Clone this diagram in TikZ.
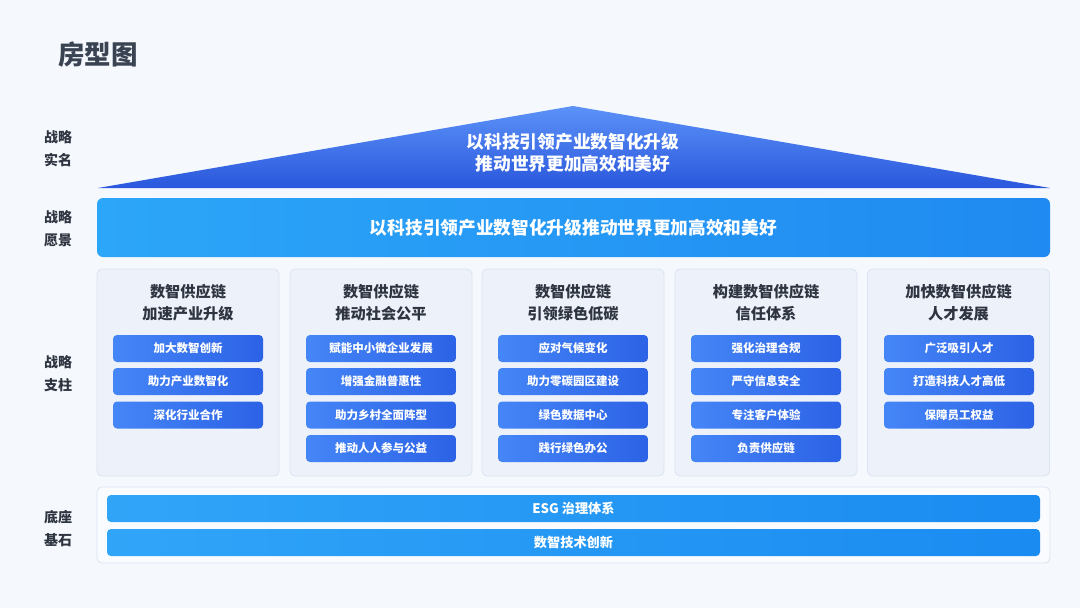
\documentclass[tikz,border=0pt]{standalone}
\usepackage{fontspec}
\setmainfont{Noto Sans CJK SC}
\definecolor{bg}{HTML}{F5F8FD}
\definecolor{titlec}{HTML}{3A4352}
\definecolor{labc}{HTML}{2E3440}
\definecolor{rooftop}{HTML}{5C92F8}
\definecolor{roofbot}{HTML}{2A57DC}
\definecolor{visl}{HTML}{2CA6F8}
\definecolor{visr}{HTML}{1F8AF1}
\definecolor{pilfill}{HTML}{EDF1FA}
\definecolor{pilline}{HTML}{DCE3F1}
\definecolor{btnl}{HTML}{4586F7}
\definecolor{btnr}{HTML}{2C62E6}
\definecolor{basel}{HTML}{30A5F8}
\definecolor{baser}{HTML}{1A8BF1}
\definecolor{basefill}{HTML}{F9FBFF}
\tikzset{
  lab/.style={text=labc, align=center, font=\fontsize{14}{23}\selectfont\bfseries},
  pillar/.style={draw=pilline, fill=pilfill, rounded corners=5pt, minimum width=182pt, minimum height=207pt, line width=0.8pt},
  ptitle/.style={text=labc, align=center, font=\fontsize{15.2}{22}\selectfont\bfseries},
  btn/.style={left color=btnl, right color=btnr, rounded corners=4pt, minimum width=150pt, minimum height=27pt, text=white, font=\fontsize{11.5}{14}\selectfont\bfseries, inner sep=0pt},
  basebar/.style={left color=basel, right color=baser, rounded corners=4pt, minimum width=933pt, minimum height=27pt, text=white, font=\fontsize{13.2}{15}\selectfont\bfseries, inner sep=0pt},
}
\begin{document}
\begin{tikzpicture}[x=1pt,y=-1pt]
\fill[bg] (0,0) rectangle (1080,608);
\useasboundingbox (0,0) rectangle (1080,608);

\node[text=titlec, font=\fontsize{26.5}{30}\selectfont\bfseries] (title) at (98,55) {房型图};

\node[lab] (l1) at (58,148.5) {战略\\实名};
\node[lab] (l2) at (58,229) {战略\\愿景};
\node[lab] (l3) at (58,373.5) {战略\\支柱};
\node[lab] (l4) at (58,529) {底座\\基石};

% roof
\shade[top color=rooftop, bottom color=roofbot] (98,188) -- (573,106) -- (1050,188) -- cycle;
\node[text=white, align=center, font=\fontsize{17.7}{21.5}\selectfont\bfseries] (roof) at (573,152.5) {以科技引领产业数智化升级\\推动世界更加高效和美好};

% vision
\node[left color=visl, right color=visr, rounded corners=6pt, minimum width=953pt, minimum height=59pt, inner sep=0pt, text=white, font=\fontsize{17.7}{20}\selectfont\bfseries] (vision) at (573.5,227.5) {以科技引领产业数智化升级推动世界更加高效和美好};

% pillars
\foreach \i/\cx/\ta/\tb in {1/188/数智供应链/加速产业升级, 2/381/数智供应链/推动社会公平, 3/573/数智供应链/引领绿色低碳, 4/766/构建数智供应链/信任体系, 5/958.5/加快数智供应链/人才发展}{
  \node[pillar] (p\i) at (\cx,372.5) {};
  \node[ptitle] (pt\i) at (\cx,303) {\ta\\\tb};
}
% buttons
\foreach \j/\y/\t in {1/348.5/加大数智创新, 2/381.5/助力产业数智化, 3/415/深化行业合作}
  \node[btn] (b1\j) at (188,\y) {\t};
\foreach \j/\y/\t in {1/348.5/赋能中小微企业发展, 2/381.5/增强金融普惠性, 3/415/助力乡村全面阵型, 4/448.5/推动人人参与公益}
  \node[btn] (b2\j) at (381,\y) {\t};
\foreach \j/\y/\t in {1/348.5/应对气候变化, 2/381.5/助力零碳园区建设, 3/415/绿色数据中心, 4/448.5/践行绿色办公}
  \node[btn] (b3\j) at (573,\y) {\t};
\foreach \j/\y/\t in {1/348.5/强化治理合规, 2/381.5/严守信息安全, 3/415/专注客户体验, 4/448.5/负责供应链}
  \node[btn] (b4\j) at (766,\y) {\t};
\foreach \j/\y/\t in {1/348.5/广泛吸引人才, 2/381.5/打造科技人才高低, 3/415/保障员工权益}
  \node[btn] (b5\j) at (959,\y) {\t};

% base
\node[draw=pilline, fill=basefill, rounded corners=5pt, minimum width=953pt, minimum height=76pt, line width=0.8pt] (base) at (573.5,525) {};
\node[basebar] (esg) at (573.5,508.5) {ESG 治理体系};
\node[basebar] (tech) at (573.5,542.5) {数智技术创新};
\end{tikzpicture}
\end{document}
